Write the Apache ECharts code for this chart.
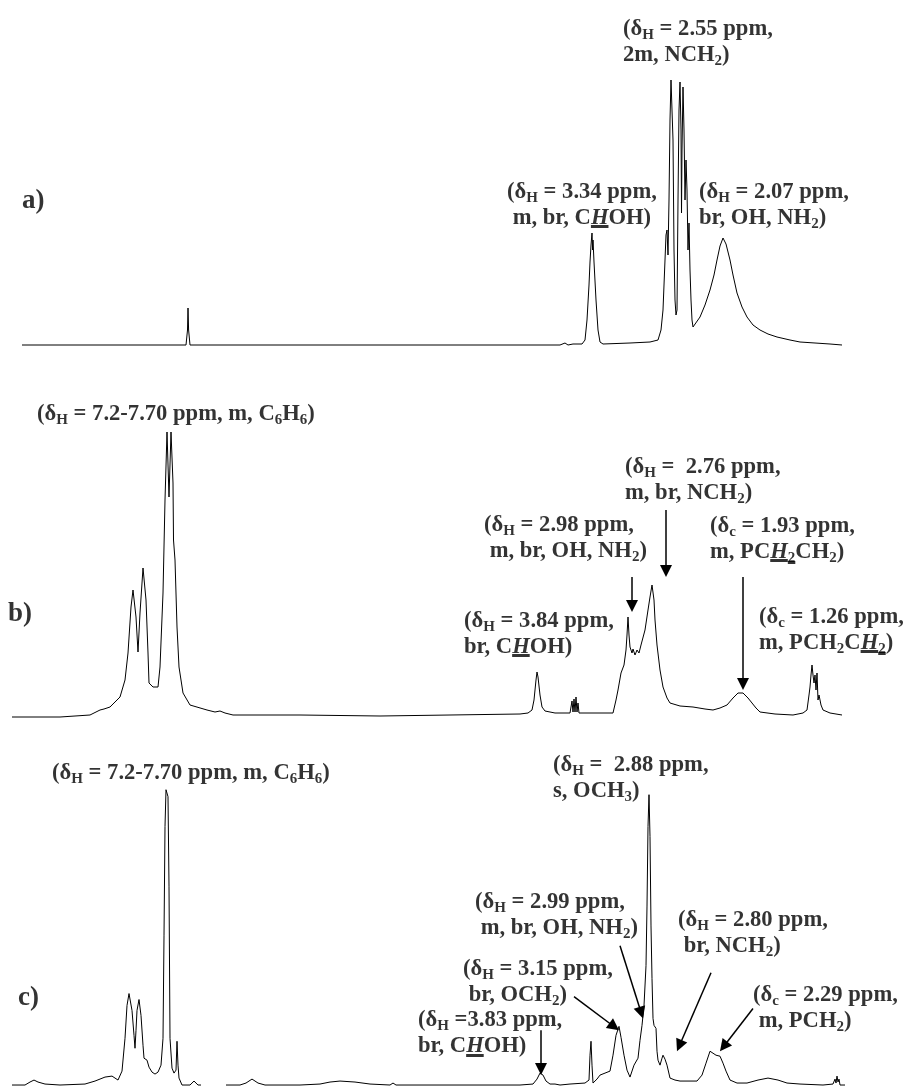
<!DOCTYPE html>
<html><head><meta charset="utf-8">
<script src="https://cdn.jsdelivr.net/npm/echarts@6/dist/echarts.min.js"></script>
<style>html,body{margin:0;padding:0;background:#fff}#c{width:903px;height:1090px}</style>
</head><body><div id="c"></div>
<script>
// ---- spectra: [position, intensity] ----
const spectrumA = [[22,0],[150,0],[186,0],[187.5,15],[188,37],[188.6,15],[190,0],[300,0],[437,0],[438,-1],[560,0],[565,2],[568,0],[573,1],[582,1],[585,5],[587,25],[589,60],[590,83],[591,100],[592,112],[592.6,95],[593,105],[594,83],[596,45],[598,15],[600,3],[603,1],[630,2],[650,3],[658,5],[661,15],[663,35],[665,85],[666,110],[667,115],[668,90],[669,145],[670,225],[671,265],[672,263],[673,205],[674,95],[675,45],[676,30],[677,35],[678,145],[679,235],[680,263],[681,215],[681.5,132],[682,195],[683,258],[684,215],[685,145],[686,185],[687,155],[688,95],[689,122],[690,75],[691,45],[692,25],[693,18],[695,20],[700,28],[705,40],[710,55],[714,70],[717,85],[720,99],[723,107],[726,101],[730,85],[733,70],[737,52],[742,38],[747,28],[753,20],[760,15],[768,11],[777,8],[790,5],[800,3],[815,2],[830,1],[842,0]];
const spectrumB = [[12,-2],[60,-2],[90,0],[100,5],[104,6],[110,8],[120,18],[125,35],[128,62],[131,108],[133,125],[136,98],[138,63],[140,102],[143,147],[146,115],[148,62],[149,32],[153,28],[158,28],[160,48],[163,122],[165,215],[167,283],[168,282],[169,218],[171,283],[173,232],[173.5,175],[175,155],[177,88],[179,48],[183,22],[190,10],[207,5],[215,3],[220,4],[225,2],[233,0],[300,0],[380,-1],[450,0],[520,1],[528,2],[532,5],[534,15],[536,35],[537,43],[538,38],[540,20],[542,8],[545,4],[555,2],[570,2],[571,2],[572,14],[573,3],[574,16],[575,3],[576,18],[577,3],[578,12],[579,2],[590,2],[605,2],[613,2],[616,15],[618,25],[621,42],[624,50],[626,65],[627,80],[628,98],[629,80],[630,68],[632,62],[633,66],[635,60],[637,65],[639,62],[641,70],[645,85],[648,105],[650,118],[652,130],[654,115],[655,95],[657,70],[660,45],[663,28],[667,17],[670,12],[680,9],[693,8],[705,6],[713,5],[720,7],[727,10],[733,17],[738,22],[740,23],[743,22],[745,20],[748,17],[752,12],[756,7],[760,3],[775,1],[793,0],[803,2],[807,5],[809,20],[810,28],[811,40],[812,50],[813,40],[814,32],[815,40],[816,25],[817,42],[818,15],[819,20],[820,22],[821,10],[823,5],[830,2],[842,0]];
const spectrumC = [[12,0],[25,0],[30,3],[34,5],[38,3],[45,1],[60,0],[85,1],[95,4],[100,6],[105,8],[112,9],[118,5],[122,14],[125,47],[127,80],[129,92],[130,92],[132,75],[134,50],[135,37],[136,55],[137,75],[139,86],[141,70],[143,40],[144,27],[146,25],[147,25],[149,18],[152,13],[155,11],[158,13],[161,20],[163,47],[164,150],[165,260],[166,297],[167,299],[168,290],[169,200],[170,47],[172,17],[174,12],[176,15],[177,44],[178,20],[179,7],[182,0],[190,0],[194,4],[198,0],[201,0],[213,null],[226,0],[240,0],[246,2],[252,6],[258,2],[265,0],[300,0],[320,1],[330,3],[340,4],[355,3],[370,1],[390,0],[393,2],[396,0],[450,0],[520,0],[533,1],[537,6],[540,12],[541,13],[543,10],[546,4],[550,1],[555,1],[560,0],[570,1],[585,2],[589,5],[590,30],[591,44],[592,20],[593,2],[597,6],[600,10],[605,12],[610,14],[613,30],[616,50],[619,59],[621,48],[624,30],[627,15],[630,8],[632,7],[634,20],[636,22],[638,27],[640,45],[642,60],[644,80],[646,120],[647,180],[648,260],[649,292],[650,250],[651,160],[652,107],[653,67],[654,60],[655,58],[656,57],[657,34],[658,25],[660,20],[662,27],[663,30],[665,26],[667,20],[670,7],[675,5],[680,4],[690,4],[697,4],[702,10],[706,22],[710,34],[713,32],[716,30],[720,29],[723,22],[726,14],[730,5],[737,2],[747,2],[758,5],[768,7],[778,5],[787,2],[800,1],[823,0],[833,1],[835,6],[836,2],[837,9],[838,3],[839,6],[840,0],[845,0]];

// ---- annotation texts ----
const panelNames = ['{p|a)}', '{p|b)}', '{p|c)}'];
const labelsA = [
  '{t|(δ}{s|H}{t| = 2.55 ppm,}\n{t|2m, NCH}{s|2}{t|)}',
  '{t|(δ}{s|H}{t| = 3.34 ppm,}\n{t| m, br, C}{u|H}{t|OH)}',
  '{t|(δ}{s|H}{t| = 2.07 ppm,}\n{t|br, OH, NH}{s|2}{t|)}'
];
const labelsB = [
  '{t|(δ}{s|H}{t| = 7.2-7.70 ppm, m, C}{s|6}{t|H}{s|6}{t|)}',
  '{t|(δ}{s|H}{t| =  2.76 ppm,}\n{t|m, br, NCH}{s|2}{t|)}',
  '{t|(δ}{s|H}{t| = 2.98 ppm,}\n{t| m, br, OH, NH}{s|2}{t|)}',
  '{t|(δ}{s|c}{t| = 1.93 ppm,}\n{t|m, PC}{u|H}{us|2}{t|CH}{s|2}{t|)}',
  '{t|(δ}{s|H}{t| = 3.84 ppm,}\n{t|br, C}{u|H}{t|OH)}',
  '{t|(δ}{s|c}{t| = 1.26 ppm,}\n{t|m, PCH}{s|2}{t|C}{u|H}{us|2}{t|)}'
];
const labelsC = [
  '{t|(δ}{s|H}{t| = 7.2-7.70 ppm, m, C}{s|6}{t|H}{s|6}{t|)}',
  '{t|(δ}{s|H}{t| =  2.88 ppm,}\n{t|s, OCH}{s|3}{t|)}',
  '{t|(δ}{s|H}{t| = 2.99 ppm,}\n{t| m, br, OH, NH}{s|2}{t|)}',
  '{t|(δ}{s|H}{t| = 2.80 ppm,}\n{t| br, NCH}{s|2}{t|)}',
  '{t|(δ}{s|H}{t| = 3.15 ppm,}\n{t| br, OCH}{s|2}{t|)}',
  '{t|(δ}{s|c}{t| = 2.29 ppm,}\n{t| m, PCH}{s|2}{t|)}',
  '{t|(δ}{s|H}{t| =3.83 ppm,}\n{t|br, C}{u|H}{t|OH)}'
];

// ---- layout: label anchors (left, top) and arrows, in plot units ----
const nameAnchors = [[22,159],[8,116],[18,103]];
const anchorsA = [[623,329],[507,166],[699,166]];
const anchorsB = [[37,314],[625,261],[484,203],[710,202],[464,107],[759,111]];
const anchorsC = [[52,327],[553,335],[475,197],[678,179],[463,130],[753,103],[418,78]];
const arrowsA = [];
const arrowsB = [[[632,138],[632,103]],[[666,205],[666,138]],[[743,138],[743,25]]];
const arrowsC = [[[541,55],[541,10]],[[574,89],[619,55]],[[620,140],[643,67]],[[711,113],[677,34]],[[753,77],[720,34]]];

const SERIF = '"Liberation Serif","Times New Roman",serif';
const underline = new echarts.graphic.LinearGradient(0,0,0,1,[
  {offset:0,color:'rgba(0,0,0,0)'},{offset:0.82,color:'rgba(0,0,0,0)'},
  {offset:0.82,color:'#000'},{offset:0.94,color:'#000'},
  {offset:0.94,color:'rgba(0,0,0,0)'},{offset:1,color:'rgba(0,0,0,0)'}]);
const rich = {
  t:{fontFamily:SERIF,fontWeight:'bold',fontSize:22.6,lineHeight:26,color:'#000'},
  s:{fontFamily:SERIF,fontWeight:'bold',fontSize:15,lineHeight:14,padding:[12,0,0,0],color:'#000'},
  u:{fontFamily:SERIF,fontWeight:'bold',fontStyle:'italic',fontSize:22.6,lineHeight:26,color:'#000',backgroundColor:underline},
  us:{fontFamily:SERIF,fontWeight:'bold',fontSize:15,lineHeight:14,padding:[12,0,0,0],color:'#000',backgroundColor:underline},
  p:{fontFamily:SERIF,fontWeight:'bold',fontSize:27,lineHeight:30,color:'#000'}
};

const panels = [
  {spec:spectrumA, labels:labelsA, anchors:anchorsA, arrows:arrowsA, top:0},
  {spec:spectrumB, labels:labelsB, anchors:anchorsB, arrows:arrowsB, top:370},
  {spec:spectrumC, labels:labelsC, anchors:anchorsC, arrows:arrowsC, top:742}
];

const grid=[], xAxis=[], yAxis=[], series=[];
panels.forEach((p,i)=>{
  grid.push({left:0,width:903,top:p.top,height:350});
  xAxis.push({type:'value',gridIndex:i,min:0,max:903,show:false});
  yAxis.push({type:'value',gridIndex:i,min:-5,max:345,show:false});
  const ml = p.arrows.map(a=>{
    const [x1,y1]=a[0],[x2,y2]=a[1];
    const dx=x2-x1, dy=y2-y1, L=Math.hypot(dx,dy);
    return [{coord:[x1,y1]},{coord:[x2-dx/L*6,y2-dy/L*6]}];
  });
  series.push({
    type:'line',xAxisIndex:i,yAxisIndex:i,data:p.spec,showSymbol:false,connectNulls:false,
    lineStyle:{color:'#000',width:1},silent:true,animation:false,clip:false,
    markLine:{silent:true,animation:false,symbol:['none','triangle'],symbolSize:12,
      label:{show:false},lineStyle:{color:'#000',width:1.5,type:'solid'},
      itemStyle:{color:'#000'},emphasis:{disabled:true},data:ml}
  });
  const items = p.labels.map((txt,k)=>({value:p.anchors[k],label:{formatter:txt}}));
  items.push({value:nameAnchors[i],label:{formatter:panelNames[i]}});
  series.push({
    type:'scatter',xAxisIndex:i,yAxisIndex:i,symbolSize:1,itemStyle:{color:'rgba(0,0,0,0)'},
    silent:true,animation:false,clip:false,data:items,
    label:{show:true,position:'inside',align:'left',verticalAlign:'top',rich:rich}
  });
});

const chart = echarts.init(document.getElementById('c'),null,{renderer:'canvas'});
chart.setOption({backgroundColor:'#fff',animation:false,grid,xAxis,yAxis,series});
</script></body></html>
